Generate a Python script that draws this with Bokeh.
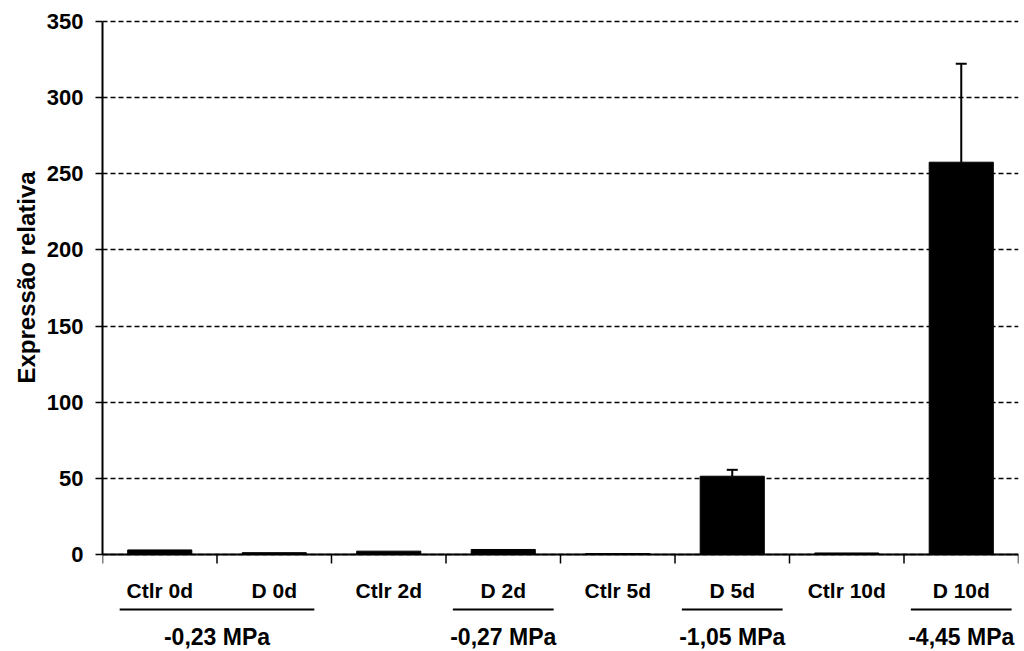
from bokeh.plotting import figure
from bokeh.models import Range1d, FactorRange, FixedTicker, ColumnDataSource, Title
from bokeh.embed import file_html
from bokeh.resources import INLINE
from bokeh.core.properties import value

# ---------------- data ----------------
categories = ["Ctlr 0d", "D 0d", "Ctlr 2d", "D 2d", "Ctlr 5d", "D 5d", "Ctlr 10d", "D 10d"]
expression = [3.0, 1.2, 2.2, 3.3, 0.6, 51.4, 1.0, 257.6]
error_up = [0, 0, 0, 0, 0, 4.2, 0, 64.6]
y_ticks = [0, 50, 100, 150, 200, 250, 300, 350]
group_labels = ["-0,23 MPa", "-0,27 MPa", "-1,05 MPa", "-4,45 MPa"]
group_first = ["Ctlr 0d", "D 2d", "D 5d", "D 10d"]
group_last = ["D 0d", "D 2d", "D 5d", "D 10d"]
y_title = "Expressão relativa"

# ---------------- layout constants ----------------
FONT = "Liberation Sans"
Y_MAX = 350
PX = 533 / Y_MAX          # pixels per data unit on the y axis
TOP_PX = 3                # room above the top grid line
BOTTOM_PX = 97            # frame extends below zero for the category area


def px(v):
    return v / PX


n = len(categories)
pos = {c: i + 0.5 for i, c in enumerate(categories)}

p = figure(
    width=1024, height=651,
    x_range=FactorRange(*categories),
    y_range=Range1d(-px(BOTTOM_PX), Y_MAX + px(TOP_PX)),
    output_backend="svg", toolbar_location=None,
    x_axis_location=None,
    min_border_left=102, min_border_right=6, min_border_top=18, min_border_bottom=0,
)
p.outline_line_color = None
p.background_fill_color = "white"
for xg in p.xgrid:
    xg.visible = False

# y axis
ax = p.yaxis[0]
ax.ticker = FixedTicker(ticks=y_ticks)
ax.bounds = (0, Y_MAX)
ax.axis_line_color = "black"
ax.axis_line_width = 2
ax.major_tick_line_color = "black"
ax.major_tick_line_width = 1.5
ax.major_tick_in = 0
ax.major_tick_out = 7
ax.minor_tick_line_color = None
ax.major_label_standoff = 12
ax.major_label_text_font = FONT
ax.major_label_text_font_style = "bold"
ax.major_label_text_font_size = "22px"
ax.major_label_text_color = "black"

# grid
g = p.ygrid[0]
g.ticker = FixedTicker(ticks=y_ticks)
g.bounds = (0, Y_MAX)
g.grid_line_color = "black"
g.grid_line_dash = "5 3"
g.grid_line_width = 1.5

# y title (left-side title, rotated)
p.add_layout(Title(text=y_title, align="left", offset=268, standoff=8,
                   text_font=FONT, text_font_style="bold", text_font_size="24px",
                   text_color="black"), "left")

# bars
src = ColumnDataSource(dict(cat=categories, val=expression))
p.vbar(x="cat", top="val", width=0.56, source=src, fill_color="black", line_color="black")

# error bars (upward only)
ex, ey0, ey1 = [], [], []
for c, v, e in zip(categories, expression, error_up):
    if e > 0:
        ex.append(pos[c])
        ey0.append(v)
        ey1.append(v + e)
cap = 0.048
p.segment(x0=ex, y0=ey0, x1=ex, y1=ey1, line_color="black", line_width=2)
p.segment(x0=[x - cap for x in ex], y0=ey1, x1=[x + cap for x in ex], y1=ey1,
          line_color="black", line_width=2)

# x axis line and ticks
p.segment(x0=[0], y0=[0], x1=[n], y1=[0], line_color="black", line_width=2)
tx = list(range(n + 1))
p.segment(x0=tx, y0=[0] * len(tx), x1=tx, y1=[-px(9)] * len(tx),
          line_color="black", line_width=1.5)

# category labels
p.text(x=[pos[c] for c in categories], y=[-px(35.5)] * n, text=categories,
       text_font=value(FONT), text_font_style="bold", text_font_size="21px",
       text_align="center", text_baseline="middle", text_color="black")

# group underlines and labels
gx0, gx1, gc = [], [], []
for a, b in zip(group_first, group_last):
    pad = 0.44 if a == b else 0.35
    gx0.append(pos[a] - pad)
    gx1.append(pos[b] + pad)
    gc.append((pos[a] + pos[b]) / 2)
p.segment(x0=gx0, y0=[-px(55)] * len(gx0), x1=gx1, y1=[-px(55)] * len(gx0),
          line_color="black", line_width=2)
p.text(x=gc, y=[-px(82)] * len(gc), text=group_labels,
       text_font=value(FONT), text_font_style="bold", text_font_size="23px",
       text_align="center", text_baseline="middle", text_color="black")

open("out.html", "w").write(file_html(p, INLINE))
